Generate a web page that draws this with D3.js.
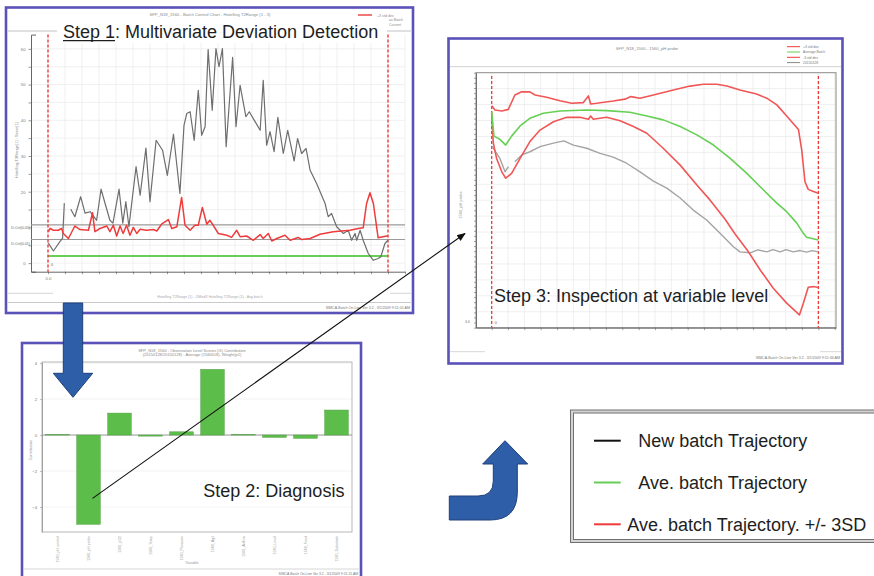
<!DOCTYPE html>
<html>
<head>
<meta charset="utf-8">
<script src="https://cdn.jsdelivr.net/npm/d3@7"></script>
<style>
  body { margin: 0; background: #fff; }
  svg { display: block; }
  text { font-family: "Liberation Sans", Arial, Helvetica, sans-serif; }
</style>
</head>
<body>
<script>
// ---------------- Step 1: batch control chart (time in % of batch maturity) ----------------
const t2Time = [0.1,1.6,3.5,4.3,4.8,5.7,6.7,7.9,9.6,10.9,12.4,14.3,15.6,18.2,19.1,20.9,22.0,22.9,23.8,25.9,27.1,28.8,30.0,31.8,33.7,35.1,36.9,38.8,40.0,40.8,41.8,43.0,44.2,45.2,46.2,47.1,48.3,49.4,50.3,51.3,52.4,54.3,55.3,56.5,58.2,59.2,62.4,63.3,64.3,65.3,66.5,67.6,69.2,70.5,72.4,73.4,74.6,75.9,77.1,79.0,81.5,82.4,83.4,84.9,86.9,88.3,89.3,90.3,90.8,91.8,92.7,94.2,95.7,97.1,97.9,99.1,100];
const t2Values = [5.6,3.4,6.0,7.0,16.8,null,15.1,13.0,18.6,14.0,14.4,12.0,20.7,12.0,11.2,20.7,11.2,17.2,10.2,27.0,19.0,32.2,17.2,34.4,31.6,24.6,36.1,19.5,38.6,41.9,42.4,34.4,48.4,35.8,38.2,59.8,42.8,60.1,55.0,60.1,32.6,57.6,38.2,49.8,41.0,42.4,37.2,51.2,33.0,36.8,31.2,40.8,30.7,37.2,28.6,34.9,30.7,32.1,26.0,22.3,16.7,13.0,13.9,10.2,8.3,9.2,6.4,8.3,6.4,9.2,6.4,2.7,0.8,1.3,1.8,5.5,6.4];
const dmodxTime = [0.1,0.6,1.6,3.0,4.0,4.5,6.0,7.9,9.4,11.9,13.1,13.8,15.3,17.3,18.2,19.2,20.2,21.2,22.1,23.1,24.1,25.1,26.1,27.1,29.0,31.0,32.0,33.4,35.4,36.4,37.9,39.3,40.3,41.8,43.2,44.2,45.4,46.7,47.6,48.6,50.1,52.6,54.0,55.5,56.5,58.4,60.4,62.4,63.3,64.8,65.8,67.3,69.7,71.2,73.6,74.6,77.1,80.0,83.9,88.8,91.3,92.7,93.7,94.7,95.7,97.1,99.6,100];
const dmodxValues = [8.8,9.7,9.2,9.2,9.7,8.3,6.9,10.4,9.4,9.2,14.1,8.8,9.7,10.4,8.8,10.6,7.6,10.4,8.3,10.6,7.8,10.0,8.3,9.5,9.2,9.4,9.0,10.9,12.2,9.7,10.2,18.4,10.6,9.2,10.6,10.6,15.6,10.9,12.0,10.6,8.3,7.8,7.2,9.2,7.4,7.6,6.4,8.0,6.9,8.3,6.2,6.9,7.8,6.4,7.2,6.6,6.9,8.1,8.8,9.2,9.7,9.9,16.7,19.7,16.7,7.1,7.6,7.6];
const critLimits = [10.7, 6.6];
const critLabels = ["D-Crit(0.05)", "D-Crit(0.01)"];
const avgBatchLevel = 2.0;
const step1YTicks = [0, 20, 30, 40, 50, 60];
const step1Legend = ["+3 std dev", "av Batch", "Current"];

// ---------------- Step 2: variable contributions ----------------
const variables = ["1560_pH control","1560_pH probe","1560_pO2","1560_Temp","1560_Pressure","1560_Agit","1560_Airflow","1560_Level","1560_Feed","1560_Substrate"];
const contributions = [0.02,-4.96,1.22,-0.06,0.18,3.65,0.02,-0.13,-0.18,1.39];
const step2YTicks = [-4, -2, 0, 2, 4];

// ---------------- Step 3: pH probe trajectories ----------------
const upperTime = [0,1.0,3.1,5.1,7.1,9.2,11.7,13.3,16.8,20.9,24.5,28.0,29.6,30.3,32.1,37.2,40.8,42.6,45.4,49.5,55.6,60.7,64.8,68.9,72.0,76.0,81.1,84.2,87.3,90.3,93.9,94.9,95.9,96.9,98.5,100];
const upperPH = [7.296,7.283,7.280,7.285,7.330,7.340,7.340,7.330,7.323,7.312,7.304,7.306,7.327,7.302,7.304,7.311,7.317,7.325,7.320,7.330,7.346,7.358,7.364,7.364,7.358,7.346,7.333,7.320,7.299,7.264,7.222,7.158,7.058,7.034,7.027,7.022];
const avgTime = [0,0.7,2.5,4.3,6.1,8.7,11.7,15.8,20.9,29.1,35.2,42.3,47.5,52.5,57.7,62.8,67.9,73.0,78.1,83.2,87.3,90.3,93.4,95.4,96.4,100];
const avgPH = [7.278,7.201,7.191,7.173,7.201,7.233,7.257,7.273,7.280,7.283,7.281,7.276,7.264,7.252,7.231,7.205,7.173,7.131,7.084,7.032,6.991,6.964,6.928,6.896,6.884,6.875];
const lowerTime = [0,0.5,1.5,3.1,4.3,6.1,8.7,11.7,14.8,18.9,23.0,27.0,29.6,30.3,31.1,35.2,39.3,43.4,47.5,52.5,57.7,62.8,66.8,71.4,74.5,78.6,82.2,86.2,90.3,94.2,95.4,96.9,98.5,100];
const lowerPH = [7.274,7.179,7.131,7.089,7.069,7.084,7.131,7.184,7.220,7.246,7.260,7.260,7.254,7.264,7.254,7.260,7.249,7.231,7.210,7.163,7.110,7.048,7.001,6.941,6.894,6.838,6.781,6.724,6.677,6.640,6.677,6.727,6.729,6.726];
const batchTime = [0.1,2.5,4.1,5.1,6.1,7.1,9.2,11.7,14.8,18.9,22.1,25.0,29.1,33.2,37.2,41.3,45.4,49.5,53.6,57.7,61.7,65.8,69.9,74.0,76.0,79.1,81.5,84.2,86.1,88.3,90.1,92.3,94.4,96.4,98.1,100];
const batchPH = [7.170,7.131,7.089,7.105,null,7.121,7.142,7.152,7.168,7.179,7.186,7.173,7.163,7.147,7.135,7.116,7.089,7.060,7.038,7.007,6.969,6.938,6.896,6.854,6.838,6.835,6.844,6.838,6.845,6.838,6.845,6.838,6.842,6.837,6.842,6.838];
const step3Legend = ["+3 std dev", "Average Batch", "-3 std dev", "20150128"];

// ---------------- Overall legend ----------------
const legendLabels = ["New batch Trajectory", "Ave. batch Trajectory", "Ave. batch Trajectory. +/- 3SD"];
const legendColors = ["#111111", "#66cc55", "#ee3b3b"];

// =====================================================================
const RED = "#ee3b3b", GREEN = "#66d055", PURPLE = "#5a52b8";
const svg = d3.select("body").append("svg").attr("width", 874).attr("height", 576);

function panelFrame(x, y, w, h) {
  svg.append("rect").attr("x", x).attr("y", y).attr("width", w).attr("height", h)
    .attr("fill", "#fff").attr("stroke", PURPLE).attr("stroke-width", 2.6);
}
function tiny(g, x, y, str, opts = {}) {
  const t = g.append("text").attr("x", x).attr("y", y).text(str)
    .attr("font-size", opts.size || 4.2).attr("fill", opts.fill || "#8a8a8a")
    .attr("text-anchor", opts.anchor || "middle");
  if (opts.rotate) t.attr("transform", `rotate(${opts.rotate},${x},${y})`);
  return t;
}
function hline(g, x0, x1, y, color = "#bbb", w = 0.8) {
  g.append("line").attr("x1", x0).attr("x2", x1).attr("y1", y).attr("y2", y)
    .attr("stroke", color).attr("stroke-width", w);
}
function styleAxis(g, color = "#555") {
  g.select(".domain").attr("stroke", color).attr("stroke-width", 0.9);
  g.selectAll(".tick line").attr("stroke", color).attr("stroke-width", 0.6);
  g.selectAll(".tick text").attr("font-size", 4.2).attr("fill", "#777")
    .attr("font-family", '"Liberation Sans", Arial, sans-serif');
}
const pairs = (xs, ys) => xs.map((t, i) => [t, ys[i]]);

// ---------------- Step 1 panel ----------------
panelFrame(6, 7.5, 407, 305.5);
const p1 = svg.append("g");
const x1 = d3.scaleLinear().domain([-5, 105]).range([31, 405]);
const y1 = d3.scaleLinear().domain([-2.4, 64]).range([271.7, 34.6]);

tiny(p1, 210, 16, "SFP_N18_1560 - Batch Control Chart - Hotelling T2Range (1 - 3)");
p1.append("line").attr("x1", 358).attr("x2", 372).attr("y1", 15).attr("y2", 15).attr("stroke", RED).attr("stroke-width", 1.4);
step1Legend.forEach((s, i) => tiny(p1, i === 0 ? 377 : 389, 16.5 + i * 4.5, s, { anchor: "start", size: 3.6 }));
hline(p1, 8, 411, 31, "#bbb", 0.9);

// grid
p1.append("g").selectAll("line").data(d3.range(0, 105.1, 5)).join("line")
  .attr("x1", d => x1(d)).attr("x2", d => x1(d)).attr("y1", y1(64)).attr("y2", y1(-2.4))
  .attr("stroke", "#eaeaea").attr("stroke-width", 0.7);
p1.append("g").selectAll("line").data(d3.range(0, 64, 5)).join("line")
  .attr("x1", x1(-5)).attr("x2", x1(105)).attr("y1", d => y1(d)).attr("y2", d => y1(d))
  .attr("stroke", "#eaeaea").attr("stroke-width", 0.7);

// axes
p1.append("g").attr("transform", `translate(0,${y1(-2.4)})`)
  .call(d3.axisBottom(x1).tickValues(d3.range(0, 105.1, 5)).tickSize(2.5).tickSizeOuter(0)
    .tickFormat(d => d === 0 ? "0.0" : ""))
  .call(g => styleAxis(g));
p1.append("g").attr("transform", `translate(${x1(-5)},0)`)
  .call(d3.axisLeft(y1).tickValues(d3.range(0, 61, 5)).tickSize(2.5).tickSizeOuter(-5)
    .tickFormat(d => step1YTicks.includes(d) ? d : ""))
  .call(g => styleAxis(g));
tiny(p1, 18, 150, "Hotelling T2Range[1] - Score[1]", { rotate: -90, size: 4 });

// control limits
critLimits.forEach((v, i) => {
  hline(p1, x1(-5), x1(105), y1(v), "#9a9a9a", 1.1);
  tiny(p1, 30, y1(v) + (i === 0 ? 4 : 5), critLabels[i], { anchor: "end", size: 3.6, fill: "#666" });
});
p1.append("line").attr("x1", x1(0)).attr("x2", x1(100)).attr("y1", y1(avgBatchLevel)).attr("y2", y1(avgBatchLevel))
  .attr("stroke", GREEN).attr("stroke-width", 1.8);

// phase boundaries
[0, 100].forEach(t => p1.append("line").attr("x1", x1(t)).attr("x2", x1(t))
  .attr("y1", y1(64)).attr("y2", y1(-2.4)).attr("stroke", RED).attr("stroke-width", 1.4).attr("stroke-dasharray", "3,2"));
tiny(p1, x1(0) + 3, y1(-0.8), "0", { size: 3.6, anchor: "start", fill: "#555" });

const line1 = d3.line().defined(d => d[1] != null).x(d => x1(d[0])).y(d => y1(d[1]));
p1.append("path").datum(pairs(t2Time, t2Values)).attr("d", line1)
  .attr("fill", "none").attr("stroke", "#6e6e6e").attr("stroke-width", 1.2).attr("stroke-linejoin", "round");
p1.append("path").datum(pairs(dmodxTime, dmodxValues)).attr("d", line1)
  .attr("fill", "none").attr("stroke", RED).attr("stroke-width", 1.5).attr("stroke-linejoin", "round");

// footer
hline(p1, 8, 53, 293.3, "#ccc", 0.8);
hline(p1, 390, 411, 293.3, "#ccc", 0.8);
tiny(p1, 210, 298, "Hotelling T2Range (1) - DModX       Hotelling T2Range (1) - Avg batch", { size: 3.6, fill: "#aaa" });
hline(p1, 8, 411, 302.5, "#bbb", 0.8);
tiny(p1, 410, 308.5, "SIMCA-Batch On-Line Ver 3.2 - 3/1/2009 9:51:01 AM", { anchor: "end", size: 3.6, fill: "#777" });

// title box
p1.append("rect").attr("x", 57).attr("y", 24).attr("width", 330).attr("height", 19).attr("fill", "#fff");
const s1 = p1.append("text").attr("x", 63).attr("y", 38.3).attr("font-size", 18).attr("fill", "#1e1e1e");
const s1a = s1.append("tspan").text("Step 1");
s1.append("tspan").text(": Multivariate Deviation Detection");
const uw = s1a.node().getComputedTextLength();
p1.append("line").attr("x1", 63).attr("x2", 63 + uw).attr("y1", 40.6).attr("y2", 40.6).attr("stroke", "#1e1e1e").attr("stroke-width", 1.2);

// ---------------- Step 3 panel ----------------
panelFrame(448.5, 38.5, 394, 325);
const p3 = svg.append("g");
const x3 = d3.scaleLinear().domain([-4.8, 105.4]).range([476, 836]);
const y3 = d3.scaleLinear().domain([6.6, 7.4]).range([327.7, 72.7]);

tiny(p3, 647, 50, "SFP_N18_1560 - 1560_pH probe", { size: 4.2 });
const l3Colors = [RED, GREEN, RED, "#888"];
step3Legend.forEach((s, i) => {
  const yy = 46.7 + i * 5.3;
  p3.append("line").attr("x1", 787).attr("x2", 800).attr("y1", yy).attr("y2", yy).attr("stroke", l3Colors[i]).attr("stroke-width", 1);
  tiny(p3, 803, yy + 1.2, s, { anchor: "start", size: 3.4, fill: "#777" });
});
hline(p3, 450, 841, 66.7, "#ccc", 0.9);

p3.append("g").selectAll("line").data(d3.range(0, 105.1, 5)).join("line")
  .attr("x1", d => x3(d)).attr("x2", d => x3(d)).attr("y1", y3(7.4)).attr("y2", y3(6.6))
  .attr("stroke", "#e8e8e8").attr("stroke-width", 0.7);
p3.append("g").selectAll("line").data(d3.range(6.65, 7.4, 0.05)).join("line")
  .attr("x1", x3(-4.8)).attr("x2", x3(105.4)).attr("y1", d => y3(d)).attr("y2", d => y3(d))
  .attr("stroke", "#e8e8e8").attr("stroke-width", 0.7);
p3.append("rect").attr("x", x3(-4.8)).attr("y", y3(7.4)).attr("width", x3(105.4) - x3(-4.8)).attr("height", y3(6.6) - y3(7.4))
  .attr("fill", "none").attr("stroke", "#8a8a8a").attr("stroke-width", 1);
p3.append("g").attr("transform", `translate(0,${y3(6.6)})`)
  .call(d3.axisBottom(x3).tickValues(d3.range(0, 105.1, 5)).tickSize(2.5).tickSizeOuter(0).tickFormat(""))
  .call(g => styleAxis(g, "#666"));
p3.append("g").attr("transform", `translate(${x3(-4.8)},0)`)
  .call(d3.axisLeft(y3).tickValues(d3.range(6.6, 7.4, 0.016)).tickSize(2).tickSizeOuter(0).tickFormat(""))
  .call(g => styleAxis(g, "#666"));
tiny(p3, 470, y3(6.615), "6.6", { anchor: "end", size: 3.4, fill: "#777" });
tiny(p3, 462, 205, "1560_pH probe", { rotate: -90, size: 4 });

[0, 100].forEach(t => p3.append("line").attr("x1", x3(t)).attr("x2", x3(t))
  .attr("y1", y3(7.39)).attr("y2", y3(6.6)).attr("stroke", RED).attr("stroke-width", 1.3).attr("stroke-dasharray", "3,2"));
tiny(p3, x3(0) + 3, y3(6.612), "0", { size: 3.6, anchor: "start", fill: "#555" });

const line3 = d3.line().defined(d => d[1] != null).x(d => x3(d[0])).y(d => y3(d[1]));
[[batchTime, batchPH, "#a4a4a4", 1.4], [upperTime, upperPH, "#f05656", 1.6], [lowerTime, lowerPH, "#f05656", 1.6], [avgTime, avgPH, GREEN, 1.6]]
  .forEach(([ts, vs, c, w]) => p3.append("path").datum(pairs(ts, vs)).attr("d", line3)
    .attr("fill", "none").attr("stroke", c).attr("stroke-width", w).attr("stroke-linejoin", "round"));

p3.append("text").attr("x", 494).attr("y", 301.7).attr("font-size", 18).attr("fill", "#1e1e1e")
  .text("Step 3: Inspection at variable level");
hline(p3, 450, 485, 351.7, "#ccc", 0.8);
hline(p3, 820, 841, 351.7, "#ccc", 0.8);
tiny(p3, 840, 358.5, "SIMCA-Batch On-Line Ver 3.2 - 3/1/2009 9:51:46 AM", { anchor: "end", size: 3.6, fill: "#777" });

// ---------------- Step 2 panel ----------------
panelFrame(22, 343, 339, 240);
const p2 = svg.append("g");
const x2 = d3.scaleBand().domain(variables).range([42, 352]).paddingInner(0.24).paddingOuter(0.12);
const y2 = d3.scaleLinear().domain([-5.39, 4.06]).range([532, 362]);

tiny(p2, 192, 351.5, "SFP_N18_1560 - Observation Level Scores (t1) Contribution", { size: 4 });
tiny(p2, 192, 356, "(20150128/20150128) - Average (1560618), Weight(p1)", { size: 4 });
p2.append("g").selectAll("line").data(step2YTicks.filter(d => d !== 0)).join("line")
  .attr("x1", 42).attr("x2", 352).attr("y1", d => y2(d)).attr("y2", d => y2(d))
  .attr("stroke", "#eeeeee").attr("stroke-width", 0.7);
p2.append("rect").attr("x", 42).attr("y", y2(4.06)).attr("width", 310).attr("height", y2(-5.39) - y2(4.06))
  .attr("fill", "none").attr("stroke", "#b0b0b0").attr("stroke-width", 0.9);
p2.append("g").attr("transform", "translate(42,0)")
  .call(d3.axisLeft(y2).tickValues(step2YTicks).tickSize(2).tickSizeOuter(0))
  .call(g => styleAxis(g, "#999"));
tiny(p2, 32, 450, "Contribution", { rotate: -90, size: 3.8 });
hline(p2, 42, 352, y2(0), "#8a8a8a", 0.9);
p2.append("g").selectAll("rect").data(variables).join("rect")
  .attr("x", d => x2(d)).attr("width", x2.bandwidth())
  .attr("y", (d, i) => y2(Math.max(0, contributions[i])))
  .attr("height", (d, i) => Math.abs(y2(contributions[i]) - y2(0)))
  .attr("fill", "#5dbd4b").attr("stroke", "#4f9f40").attr("stroke-width", 0.5);
variables.forEach(v => tiny(p2, x2(v) + x2.bandwidth() / 2 + 1.5, 536, v, { rotate: -90, anchor: "end", size: 3.6, fill: "#999" }));
tiny(p2, 192, 564, "Variable", { size: 3.6, fill: "#999" });
hline(p2, 24, 359, 569, "#ccc", 0.8);
tiny(p2, 358, 574.5, "SIMCA-Batch On-Line Ver 3.2 - 3/1/2009 9:51:21 AM", { anchor: "end", size: 3.4, fill: "#777" });

p2.append("text").attr("x", 203.3).attr("y", 497.3).attr("font-size", 18).attr("fill", "#1e1e1e")
  .text("Step 2: Diagnosis");

// ---------------- Workflow arrows ----------------
const arrowFill = "#2e5ea8", arrowStroke = "#1f3f7a";
svg.append("path")
  .attr("d", "M63.3,303 H82.7 V373.3 H92.7 L73,397.3 L53.3,373.3 H63.3 Z")
  .attr("fill", arrowFill).attr("stroke", arrowStroke).attr("stroke-width", 1);
svg.append("path")
  .attr("d", "M449.3,520 H490 Q517.3,520 517.3,492 V464 H527.7 L505,440.7 L482.7,464 H493.3 V481 Q493.3,496 478,496 H449.3 Z")
  .attr("fill", arrowFill).attr("stroke", arrowStroke).attr("stroke-width", 1);

const defs = svg.append("defs");
defs.append("marker").attr("id", "ah").attr("viewBox", "0 0 10 8").attr("refX", 9).attr("refY", 4)
  .attr("markerWidth", 9).attr("markerHeight", 7).attr("markerUnits", "userSpaceOnUse").attr("orient", "auto")
  .append("path").attr("d", "M0,0 L10,4 L0,8 Z").attr("fill", "#111");
const bar2 = variables[1];
svg.append("line")
  .attr("x1", x2(bar2) + x2.bandwidth() / 2 + 4).attr("y1", y2(-3.52))
  .attr("x2", 465).attr("y2", 233.5)
  .attr("stroke", "#111").attr("stroke-width", 1.1).attr("marker-end", "url(#ah)");

// ---------------- Trajectory legend ----------------
const lg = svg.append("g");
lg.append("rect").attr("x", 570.5).attr("y", 410).attr("width", 310).attr("height", 132.5)
  .attr("fill", "#d4d4d4").attr("stroke", "#707070").attr("stroke-width", 1);
lg.append("rect").attr("x", 573.5).attr("y", 413).attr("width", 304).attr("height", 126.5)
  .attr("fill", "#fff").attr("stroke", "#707070").attr("stroke-width", 1);
const textX = [638.3, 638.3, 627.3];
legendLabels.forEach((s, i) => {
  const yy = 440.7 + i * 41.8;
  lg.append("line").attr("x1", 594).attr("x2", 620.7).attr("y1", yy).attr("y2", yy)
    .attr("stroke", legendColors[i]).attr("stroke-width", 2);
  lg.append("text").attr("x", textX[i]).attr("y", yy + 6.3).attr("font-size", 18).attr("fill", "#1e1e1e").text(s);
});
</script>
</body>
</html>
